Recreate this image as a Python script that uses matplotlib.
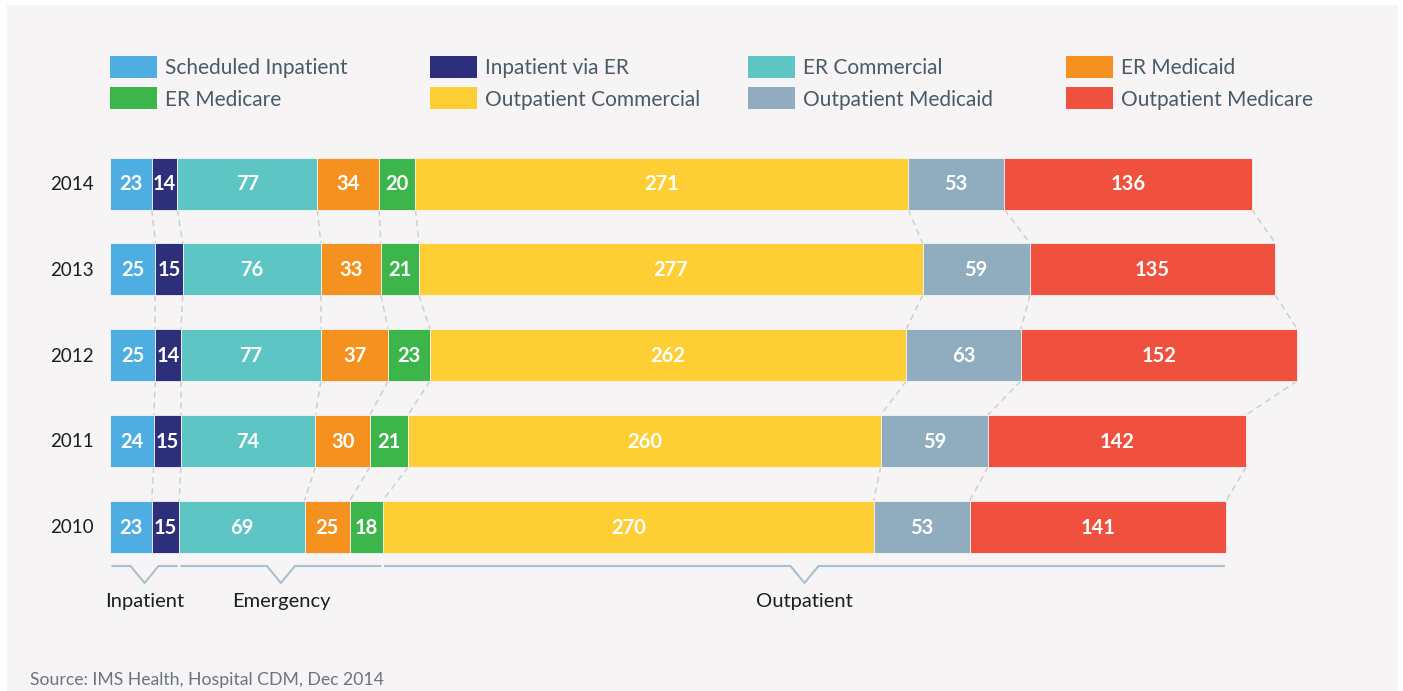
import matplotlib as mpl
import matplotlib.pyplot as plt
import numpy as np
from matplotlib.patches import Rectangle

plt.rcParams['font.family'] = ['Lato', 'DejaVu Sans']

years = ["2014", "2013", "2012", "2011", "2010"]
categories = ["Scheduled Inpatient", "Inpatient via ER", "ER Commercial", "ER Medicaid",
              "ER Medicare", "Outpatient Commercial", "Outpatient Medicaid", "Outpatient Medicare"]
colors = ["#4eaee2", "#2d2f7b", "#5ec5c5", "#f5921f",
          "#3cb54a", "#fdcf35", "#8fadbf", "#f0503e"]

sched_inpatient = [23, 25, 25, 24, 23]
inpatient_er = [14, 15, 14, 15, 15]
er_commercial = [77, 76, 77, 74, 69]
er_medicaid = [34, 33, 37, 30, 25]
er_medicare = [20, 21, 23, 21, 18]
out_commercial = [271, 277, 262, 260, 270]
out_medicaid = [53, 59, 63, 59, 53]
out_medicare = [136, 135, 152, 142, 141]

groups = ["Inpatient", "Emergency", "Outpatient"]
group_sizes = [2, 3, 3]   # number of categories in each group

series = np.array([sched_inpatient, inpatient_er, er_commercial, er_medicaid,
                   er_medicare, out_commercial, out_medicaid, out_medicare])

# layout in pixels
W, H = 1403, 691
s = 1.818          # px per unit
x0 = 110           # px of value 0
y0 = 183           # px of first row centre
pitch = 85.75      # px between rows


def px2x(px):
    return (px - x0) / s


def px2y(py):
    return (py - y0) / pitch


dy = 1.5 / pitch   # small nudge so text sits visually centred

fig = plt.figure(figsize=(W / 100, H / 100), dpi=100)
fig.patch.set_facecolor("white")
ax = fig.add_axes([0, 0, 1, 1])
ax.set_xlim(px2x(0), px2x(W))
ax.set_ylim(px2y(H), px2y(0))
ax.axis("off")

# background panel
ax.add_patch(Rectangle((px2x(7), px2y(5)), (W - 12) / s, (H) / pitch,
                       facecolor="#f6f4f5", edgecolor="none", zorder=0))

rows = np.arange(len(years))
bh = 52 / pitch
cum = np.vstack([np.zeros(len(years)), np.cumsum(series, axis=0)])

for k in range(len(categories)):
    ax.barh(rows + 0.5 / pitch, series[k], left=cum[k], height=bh, color=colors[k],
            edgecolor="#f6f4f5", linewidth=0.6, zorder=2)
    for r in rows:
        ax.text(cum[k][r] + series[k][r] / 2, r + dy, str(series[k][r]), ha="center", va="center",
                color="white", fontsize=14.5, fontweight="bold", zorder=3)

# dashed connectors between rows
for r in rows[:-1]:
    for k in range(1, len(categories) + 1):
        ax.plot([cum[k][r], cum[k][r + 1]], [r + 0.5 / pitch + bh / 2, r + 1 + 0.5 / pitch - bh / 2],
                color="#cfcfcf", linestyle=(0, (4, 3)), linewidth=1.1, zorder=1)

# year labels
for r, y in zip(rows, years):
    ax.text(px2x(94), r + dy, y, ha="right", va="center", fontsize=13.5, color="#1e1e1e")

# legend
col_x = [110, 430, 748, 1066]
row_y = [67, 98]
for i, (c, col) in enumerate(zip(categories, colors)):
    lx = col_x[i % 4]
    ly = row_y[i // 4]
    ax.add_patch(Rectangle((px2x(lx), px2y(ly - 11)), 47 / s, 22 / pitch,
                           facecolor=col, edgecolor="none"))
    ax.text(px2x(lx + 55), px2y(ly) + dy, c, ha="left", va="center", fontsize=15, color="#4a5a66")

# group brackets under the last row
last = len(years) - 1
bstart = 0
bt, bb = px2y(566), px2y(583)
for g, n in zip(groups, group_sizes):
    a = cum[bstart][last] + 2.5 / s
    b = cum[bstart + n][last] - 2.5 / s
    m = (a + b) / 2
    hw = 14 / s
    ax.plot([a, m - hw, m, m + hw, b], [bt, bt, bb, bt, bt], color="#a9c0cf", linewidth=1.5)
    ax.text(m, px2y(600) + dy, g, ha="center", va="center", fontsize=14.5, color="#1e1e1e")
    bstart += n

ax.text(px2x(30), px2y(678) + dy, "Source: IMS Health, Hospital CDM, Dec 2014", ha="left",
        va="center", fontsize=12.7, color="#6a7580")

fig.savefig("out.png", dpi=100, facecolor=fig.get_facecolor())
